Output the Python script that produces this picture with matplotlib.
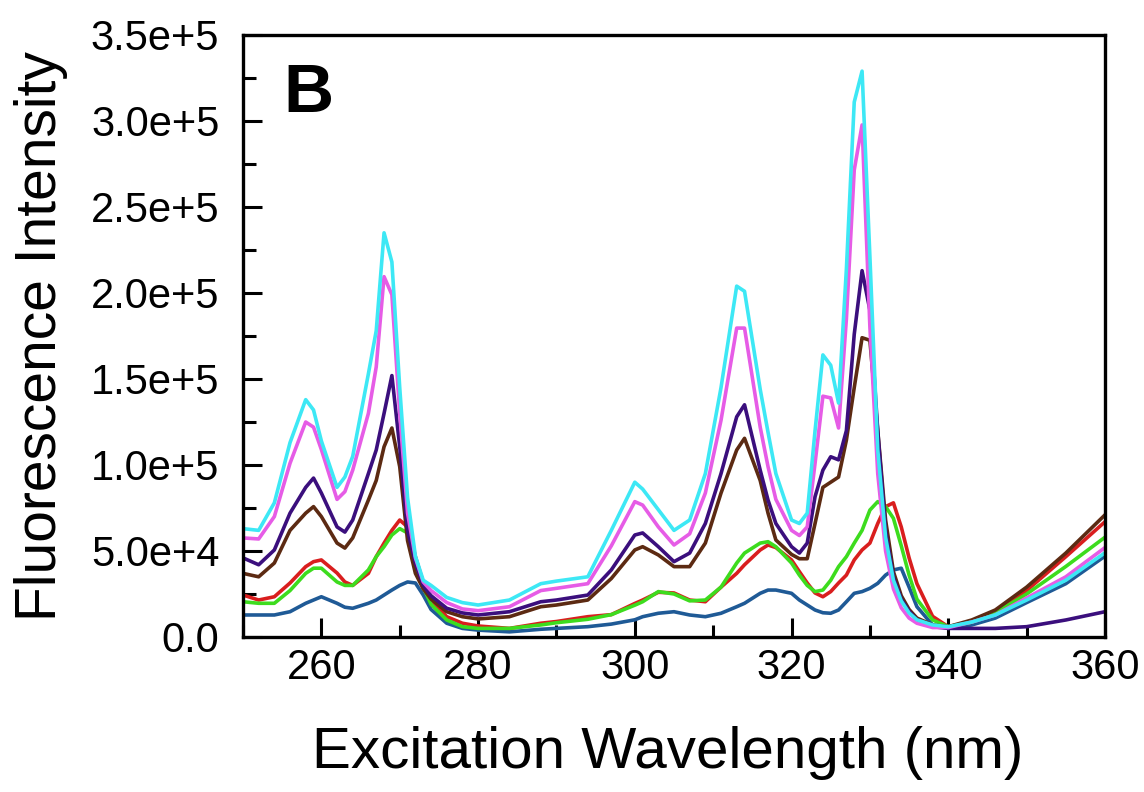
import numpy as np
import matplotlib
matplotlib.use('Agg')
import matplotlib.pyplot as plt
from matplotlib.ticker import MultipleLocator, FuncFormatter

plt.rcParams['font.family'] = ['Liberation Sans', 'DejaVu Sans']

# excitation wavelengths (nm) shared by every trace
wl = [250, 252, 254, 256, 258, 259, 260, 262, 263, 264, 266, 267, 268, 269, 270,
      271, 272, 273, 274, 276, 278, 280, 284, 288, 290, 294, 297, 300, 301, 303,
      305, 307, 309, 311, 313, 314, 316, 317, 318, 320, 321, 322, 323, 324, 325,
      326, 327, 328, 329, 330, 331, 332, 333, 334, 335, 336, 338, 340, 343, 346,
      350, 355, 360]

# intensities in units of 1e3
blue = [12.8, 12.8, 12.8, 14.7, 19.6, 21.5, 23.4, 19.6, 17.3, 16.7, 19.6, 21.5, 24.4, 27.3, 30,
        32, 31.4, 24.4, 16, 8, 5, 4, 3, 4.5, 5, 6, 7.5, 10, 11.8, 13.8,
        14.7, 12.8, 11.8, 13.8, 17.6, 19.6, 25.4, 27.3, 27.3, 25.4, 21.5, 18.6, 15.7, 14.1, 13.8,
        15.7, 20.5, 25.4, 26.4, 28.3, 31.2, 36, 39, 40, 29, 17.6, 7, 5, 7, 11,
        20, 31, 47]
red = [24.4, 21.5, 23.4, 31.4, 40.9, 43.8, 44.8, 37.2, 32, 30, 37, 46.7, 54.6, 62, 68,
       64, 46.7, 31.4, 21.5, 11.8, 8, 6.4, 5, 8, 9, 11.8, 13, 19.5, 21.5, 26,
       25.6, 21.5, 20.5, 29, 37, 42, 50.6, 53.5, 52, 44.8, 38, 31.4, 25.6, 23.4, 26.4,
       31.4, 36, 44.8, 50.6, 54.6, 66, 75.8, 78, 64, 46, 31, 12, 6, 8.7, 14.7,
       27, 46.7, 67]
green = [20.5, 19.6, 19.6, 27, 37, 40, 40, 32, 30, 30, 39, 46.7, 52.5, 59.3, 63,
         60.5, 43, 29, 19, 9.9, 6, 5, 5, 7, 8.3, 10.3, 13, 18.5, 20.5, 26.4,
         25, 21, 21.5, 29, 43, 48.8, 54.6, 55.4, 52.5, 43, 36, 30, 26.4, 27.3, 33,
         40.9, 46.7, 54.6, 62, 73.8, 78.7, 75.8, 69, 53, 36, 22, 9.9, 6, 8.7, 14,
         25, 41, 58]
brown = [37, 35, 43, 62, 72, 75.8, 70, 54.6, 51.7, 57.6, 79.6, 91, 110.6, 121.5, 99,
         56, 37, 28, 22, 14.7, 11.8, 10.5, 11.8, 17.6, 18.6, 21.5, 34, 50.6, 52.5, 47.7,
         40.9, 40.9, 54.6, 83.7, 108.7, 115.5, 91, 72, 56.4, 48, 45.5, 45.5, 66, 87, 90,
         93, 114.5, 145, 174, 172.5, 120, 68, 38, 24, 16, 11, 7, 6, 9.9, 15.7,
         29, 48.8, 71]
indigo = [46, 42, 50.6, 72, 87, 92.4, 83.7, 64, 61, 68, 95, 108.7, 130, 152, 110.6,
          62, 43, 30, 24, 16.7, 14, 12.8, 14.7, 20.5, 21.5, 24.4, 39, 59.3, 60.5, 52.5,
          43.8, 48.8, 66, 95, 128, 135, 97, 79.6, 66, 52.5, 48.8, 54.6, 81.6, 97, 104.8,
          103, 120, 176, 213, 190, 120, 62, 35, 22, 15, 10, 6, 5, 5, 5,
          6, 9.9, 14.7]
magenta = [57.6, 57, 70, 101, 125, 122, 109, 80, 84.5, 97, 130, 157, 209.5, 199, 130,
           72, 46, 32, 27, 20, 16.3, 15.3, 17.6, 27, 28.3, 31, 53, 78.7, 76.7, 64,
           53.5, 60, 83.7, 126, 179.6, 179.6, 122, 99, 80, 62, 59, 64, 101, 140, 139,
           121.5, 185, 271.5, 297.7, 180, 95, 50, 28, 17, 11, 8, 5.5, 5.5, 8.7, 12.8,
           22.7, 35, 52]
cyan = [63, 62, 78, 113, 138, 132, 114, 87, 93, 105, 153, 178, 235, 218, 145,
        81, 47, 33, 30, 23, 20, 18.6, 21.5, 31, 32.5, 35, 62, 90, 86, 74,
        62, 68, 95, 145, 204, 201, 144, 119, 95, 68, 66, 72, 120, 164, 158,
        136, 214, 311, 329, 221, 109, 58, 33, 21, 14, 10, 7, 6, 8.7, 12.8,
        21.5, 33, 49]

series = [blue, red, green, brown, indigo, magenta, cyan]
colors = ['#1f5a96', '#d91e1e', '#3ddc1e', '#5c2a12', '#3b0f7d', '#e65ce6', '#3de8f5']


def sci_fmt(v, pos):
    if v == 0:
        return '0.0'
    e = int(np.floor(np.log10(abs(v))))
    return '%.1fe+%d' % (v / 10 ** e, e)


fig = plt.figure(figsize=(11.44, 7.92), dpi=100)
ax = fig.add_axes([243 / 1144, 1 - 637 / 792, 862 / 1144, 602 / 792])

x = np.array(wl)
for s, c in zip(series, colors):
    ax.plot(x, np.array(s) * 1e3, color=c, lw=2.6)

ax.set_xlim(250, 360)
ax.set_ylim(0, 3.5e5)
ax.xaxis.set_major_locator(MultipleLocator(20))
ax.xaxis.set_minor_locator(MultipleLocator(10))
ax.yaxis.set_major_locator(MultipleLocator(5e4))
ax.yaxis.set_minor_locator(MultipleLocator(2.5e4))
ax.yaxis.set_major_formatter(FuncFormatter(sci_fmt))

ax.tick_params(which='both', direction='in', top=False, right=False, labelsize=30, width=2.2)
ax.tick_params(which='major', length=14)
ax.tick_params(which='minor', length=9)
ax.tick_params(axis='y', pad=17)
ax.tick_params(axis='x', pad=8)
for sp in ax.spines.values():
    sp.set_linewidth(2.4)

ax.set_xlabel('Excitation Wavelength (nm)', fontsize=42)
ax.set_ylabel('Fluorescence Intensity', fontsize=41)
ax.xaxis.set_label_coords(0.493, -0.148)
ax.yaxis.set_label_coords(-0.203, 0.5)

ax.text(0.047, 0.955, 'B', transform=ax.transAxes, fontsize=50, fontweight='bold',
        ha='left', va='top')

fig.savefig('out.png', dpi=100)
